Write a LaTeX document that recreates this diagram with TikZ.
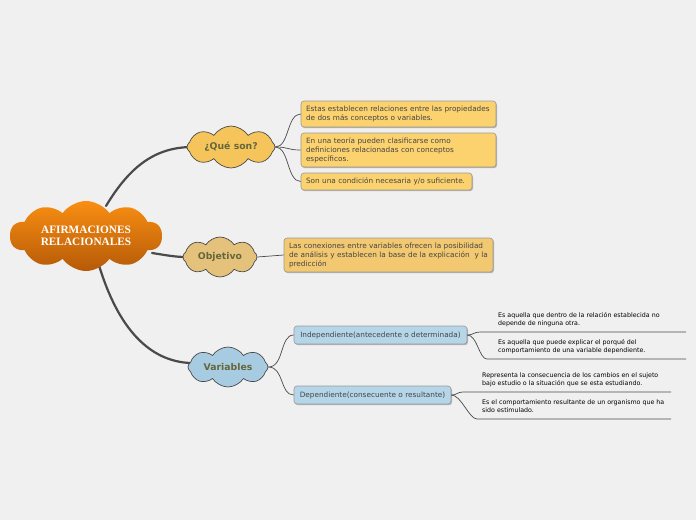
\documentclass[tikz,border=0pt]{standalone}
\usepackage{fontspec}
\setmainfont{DejaVu Sans}
\newfontfamily\rootfont{Liberation Serif}
\usetikzlibrary{shapes.symbols,shadows}
\definecolor{bg}{HTML}{F0F0F0}
\definecolor{rootTop}{HTML}{F98E12}
\definecolor{rootBot}{HTML}{B55A08}
\definecolor{qfill}{HTML}{F5C55C}
\definecolor{ofill}{HTML}{E4C27C}
\definecolor{vfill}{HTML}{A7CCE1}
\definecolor{yfill}{HTML}{FCD26F}
\definecolor{ofillbox}{HTML}{F2C871}
\definecolor{bfill}{HTML}{B5D5E8}
\definecolor{edge}{HTML}{4A4A4A}
\definecolor{olive}{HTML}{66663C}
\definecolor{txt}{HTML}{454545}
\tikzset{
  cloudnode/.style={cloud, cloud puffs=8, cloud puff arc=115, cloud ignores aspect,
    draw=edge, line width=0.7pt, inner sep=0pt, text=olive,
    font=\bfseries\fontsize{9.3}{10}\selectfont},
  boxnode/.style={rectangle, rounded corners=3pt, draw=black!40, line width=0.6pt,
    inner xsep=5pt, inner ysep=2pt, text=txt, align=left,
    font=\fontsize{7.3}{9}\selectfont,
    drop shadow={shadow xshift=1pt, shadow yshift=-1.2pt, fill=black, opacity=0.25}},
  leaf/.style={anchor=north west, inner sep=0pt, align=left, text=black,
    font=\fontsize{6.3}{8}\selectfont},
  mainedge/.style={draw=edge, line width=2.2pt, line cap=round},
  subedge/.style={draw=edge, line width=0.7pt},
}
\begin{document}
\begin{tikzpicture}[x=1pt,y=-1pt]
\fill[bg] (0,0) rectangle (696,520);
\useasboundingbox (0,0) rectangle (696,520);

% main edges (drawn first)
\coordinate (rq) at (106,206);
\coordinate (ro) at (152,253);
\coordinate (rv) at (98,262);
\coordinate (qw) at (190,147);
\coordinate (ow) at (186,257);
\coordinate (vw) at (190,363);
\draw[mainedge] (rq) .. controls (130,166) and (155,148) .. (qw);
\draw[mainedge] (ro) .. controls (165,255) and (175,257) .. (ow);
\draw[mainedge] (rv) .. controls (118,330) and (150,361) .. (vw);

% root cloud
\node[cloud, cloud puffs=10, cloud puff arc=110, cloud ignores aspect,
  minimum width=152pt, minimum height=70pt, inner sep=0pt,
  top color=rootTop, bottom color=rootBot, draw=none,
  text=white, align=center, font=\rootfont\bfseries\fontsize{11.3}{12}\selectfont]
  (root) at (86,236) {AFIRMACIONES\\RELACIONALES};

% level-1 clouds
\node[cloudnode, fill=qfill, minimum width=88pt, minimum height=42pt] (q) at (231,147) {¿Qué son?};
\node[cloudnode, fill=ofill, minimum width=74pt, minimum height=40pt] (o) at (220,257) {Objetivo};
\node[cloudnode, fill=vfill, minimum width=80pt, minimum height=40pt] (v) at (228,367) {Variables};

% boxes
\node[boxnode, fill=yfill, minimum width=195pt, minimum height=26pt, text width=185pt] (b1) at (398.5,114)
  {Estas establecen relaciones entre las propiedades\\de dos más conceptos o variables.};
\node[boxnode, fill=yfill, minimum width=195pt, minimum height=34pt, text width=185pt] (b2) at (398.5,150)
  {En una teoría pueden clasificarse como\\definiciones relacionadas con conceptos\\específicos.};
\node[boxnode, fill=yfill, minimum width=171pt, minimum height=17pt, text width=161pt] (b3) at (386.5,181.5)
  {Son una condición necesaria y/o suficiente.};
\node[boxnode, fill=ofillbox, minimum width=209pt, minimum height=34pt, text width=199pt] (ob) at (388.5,255)
  {Las conexiones entre variables ofrecen la posibilidad\\de análisis y establecen la base de la explicación\ \ y la\\predicción};
\node[boxnode, fill=bfill, minimum width=173pt, minimum height=18pt, align=center] (ind) at (380.5,335)
  {Independiente(antecedente o determinada)};
\node[boxnode, fill=bfill, minimum width=157pt, minimum height=18pt, align=center] (dep) at (372.5,395)
  {Dependiente(consecuente o resultante)};

% thin edges
\draw[subedge] (q.east) .. controls +(14,0) and +(-14,0) .. (b1.west);
\draw[subedge] (q.east) .. controls +(14,0) and +(-14,0) .. (b2.west);
\draw[subedge] (q.east) .. controls +(14,0) and +(-14,0) .. (b3.west);
\draw[subedge] (o.east) -- (ob.west);
\draw[subedge] (v.east) .. controls +(16,0) and +(-14,0) .. (ind.west);
\draw[subedge] (v.east) .. controls +(16,0) and +(-14,0) .. (dep.west);

% leaves
\coordinate (l1s) at (480,332); \coordinate (l1e) at (686,332);
\coordinate (l2s) at (487,359); \coordinate (l2e) at (686,359);
\coordinate (l3s) at (463,392); \coordinate (l3e) at (671,392);
\coordinate (l4s) at (477,419); \coordinate (l4e) at (671,419);
\draw[subedge] (ind.east) .. controls +(6,0) and +(-6,0) .. (l1s) -- (l1e);
\draw[subedge] (ind.east) .. controls +(10,0) and +(-8,0) .. (l2s) -- (l2e);
\draw[subedge] (dep.east) .. controls +(6,0) and +(-6,0) .. (l3s) -- (l3e);
\draw[subedge] (dep.east) .. controls +(10,0) and +(-8,0) .. (l4s) -- (l4e);

\node[leaf] (t1) at (498,312) {Es aquella que dentro de la relación establecida no\\depende de ninguna otra.};
\node[leaf] (t2) at (498,339.5) {Es aquella que puede explicar el porqué del\\comportamiento de una variable dependiente.};
\node[leaf] (t3) at (482,372.5) {Representa la consecuencia de los cambios en el sujeto\\bajo estudio o la situación que se esta estudiando.};
\node[leaf] (t4) at (482,400) {Es el comportamiento resultante de un organismo que ha\\sido estimulado.};
\end{tikzpicture}
\end{document}
